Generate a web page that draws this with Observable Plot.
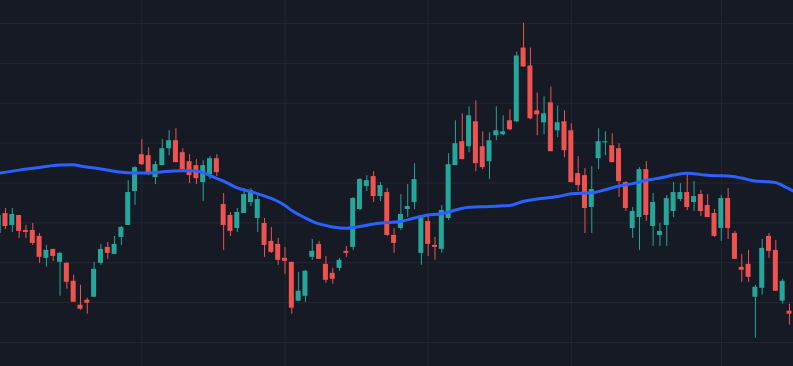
<!DOCTYPE html>
<html><head><meta charset="utf-8">
<script src="https://cdn.jsdelivr.net/npm/d3@7"></script>
<script src="https://cdn.jsdelivr.net/npm/@observablehq/plot@0.6"></script>
<style>html,body{margin:0;padding:0;background:#161a25;overflow:hidden}</style>
</head><body><div id="chart"></div>
<script>
const bar = d3.range(1, 118);
const open = [
87.35, 92.35, 89.35, 91.85, 88.1, 88.1, 86.6, 81.1, 83.35, 80.1,
79.85, 75.35, 69.35, 70.6, 71.35, 79.85, 83.85, 82.1, 86.35, 89.35,
97.85, 107.1, 106.85, 101.35, 104.35, 108.6, 110.6, 107.6, 105.35, 104.35,
100.1, 102.1, 106.1, 94.6, 91.85, 88.6, 92.35, 95.1, 91.1, 89.85,
85.35, 84.6, 81.1, 80.1, 70.35, 71.6, 81.35, 84.6, 79.6, 77.35,
78.6, 82.85, 83.85, 93.35, 99.1, 101.6, 96.6, 97.6, 86.85, 88.6,
93.35, 95.1, 82.35, 90.35, 84.35, 83.35, 91.1, 104.35, 110.35, 109.1,
115.35, 109.1, 105.35, 111.85, 112.1, 115.6, 115.35, 133.85, 129.35, 118.1,
115.1, 120.1, 113.1, 115.35, 113.1, 102.35, 101.85, 93.85, 106.1, 110.1,
109.35, 108.6, 100.1, 88.6, 91.35, 103.35, 89.1, 86.85, 89.35, 92.85,
95.85, 97.6, 95.1, 97.1, 94.35, 92.35, 88.6, 96.1, 87.35, 78.85,
79.6, 71.35, 73.6, 86.6, 83.1, 70.35, 67.85];
const high = [
92.6, 93.6, 93.6, 91.85, 89.35, 89.85, 87.35, 84.35, 83.35, 82.6,
80.1, 76.85, 74.35, 71.1, 80.1, 84.6, 85.1, 86.6, 89.1, 100.6,
104.1, 110.85, 108.85, 105.35, 110.85, 113.1, 113.6, 108.6, 107.1, 105.85,
105.6, 106.6, 107.1, 97.35, 92.6, 93.6, 98.6, 98.6, 96.85, 91.1,
88.85, 86.1, 83.85, 80.1, 77.6, 78.1, 85.85, 85.35, 81.6, 78.6,
81.1, 84.1, 96.35, 101.1, 101.85, 102.85, 100.1, 98.6, 88.6, 97.1,
99.6, 104.85, 91.85, 92.1, 86.35, 94.35, 107.35, 115.6, 117.35, 119.1,
120.6, 112.85, 112.6, 119.1, 116.85, 118.35, 132.85, 140.1, 133.85, 122.6,
121.6, 124.1, 119.35, 118.1, 114.85, 106.6, 103.6, 104.1, 113.6, 112.85,
112.35, 109.85, 100.35, 93.85, 103.85, 105.35, 97.35, 89.85, 96.85, 100.1,
99.85, 102.35, 100.35, 98.1, 97.1, 93.35, 96.85, 98.6, 87.85, 82.1,
83.1, 74.35, 85.85, 87.35, 85.6, 75.85, 69.6];
const low = [
86.85, 88.35, 87.6, 86.1, 86.1, 84.35, 79.85, 78.85, 80.35, 71.6,
73.35, 70.1, 68.1, 67.1, 71.35, 79.35, 80.85, 82.1, 84.35, 89.35,
94.35, 104.35, 101.85, 99.6, 104.35, 106.85, 105.1, 102.85, 99.85, 99.6,
95.35, 100.85, 101.6, 83.1, 86.6, 87.6, 92.35, 94.1, 87.6, 81.35,
82.35, 79.35, 77.1, 67.1, 70.35, 70.1, 80.6, 80.85, 74.85, 74.6,
77.85, 81.35, 83.1, 93.1, 97.85, 95.1, 95.35, 86.6, 82.35, 88.1,
91.35, 93.35, 79.35, 81.6, 80.6, 82.35, 90.6, 104.35, 105.85, 107.6,
102.85, 103.35, 100.85, 110.6, 111.85, 113.1, 115.1, 129.1, 115.85, 111.85,
112.1, 107.85, 111.35, 106.35, 100.1, 97.85, 87.35, 87.35, 103.35, 106.85,
105.1, 96.35, 92.85, 86.1, 83.1, 90.35, 84.1, 84.1, 84.1, 91.35,
95.35, 93.1, 92.85, 91.6, 91.35, 86.35, 85.35, 85.85, 80.85, 75.1,
75.1, 61.1, 71.85, 81.1, 72.85, 69.6, 64.35];
const close = [
91.85, 89.1, 92.1, 87.85, 87.6, 84.85, 81.35, 83.1, 81.6, 82.35,
75.1, 70.1, 68.35, 69.85, 78.35, 83.35, 82.35, 84.6, 88.85, 97.6,
103.85, 104.6, 102.6, 104.6, 108.6, 110.6, 105.1, 103.35, 101.85, 101.1,
104.35, 106.1, 102.6, 89.35, 87.85, 92.6, 97.1, 98.1, 95.85, 84.35,
82.6, 80.6, 80.35, 68.6, 72.85, 77.85, 82.85, 80.85, 75.6, 75.85,
80.6, 82.35, 96.1, 100.85, 100.6, 96.6, 99.35, 86.85, 84.85, 92.1,
94.1, 100.85, 91.6, 84.6, 83.85, 93.1, 104.6, 109.85, 105.85, 116.85,
104.85, 103.85, 110.6, 113.1, 112.85, 113.35, 131.85, 129.1, 116.1, 117.1,
117.35, 107.85, 115.1, 108.1, 100.1, 99.35, 93.6, 98.35, 110.35, 110.35,
105.1, 100.35, 93.6, 92.85, 103.35, 91.85, 95.1, 87.85, 96.1, 97.6,
97.6, 93.85, 96.6, 92.85, 91.35, 86.6, 96.1, 88.6, 80.85, 78.1,
76.35, 73.85, 83.6, 82.85, 72.85, 75.35, 67.1];
const maBar = [1, 4, 7, 10, 12, 13, 16, 19, 21, 23, 26, 28, 30, 31, 32, 34, 36, 38, 40, 42, 43, 44, 46, 48, 50, 52, 54, 56, 58, 60, 62, 64, 66, 68, 70, 73, 75, 76, 78, 80, 83, 85, 88, 90, 92, 94, 96, 98, 100, 102, 104, 106, 108, 110, 112, 114, 115, 116, 117, 118];
const maValue = [102.45, 103.23, 103.9, 104.53, 104.55, 104.28, 103.53, 102.68, 102.53, 102.53, 102.93, 103.1, 103.03, 102.6, 101.85, 100.48, 98.78, 97.85, 96.73, 95.35, 94.35, 93.1, 91.23, 89.73, 88.98, 88.68, 89.1, 89.73, 90.1, 90.35, 91.23, 91.98, 92.28, 93.23, 93.93, 94.1, 94.28, 94.35, 95.43, 95.98, 96.6, 97.28, 97.55, 98.3, 99.23, 99.85, 100.68, 101.23, 101.98, 102.43, 102.1, 101.8, 101.78, 101.23, 100.48, 100.3, 100.1, 99.35, 98.48, 97.6];
const monthStart = [22, 43, 64, 85, 107];
const priceTicks = [60, 70, 80, 90, 100, 110, 120, 130, 140];

const candles = bar.map((b, k) => ({bar: b, open: open[k], high: high[k], low: low[k], close: close[k]}));
const ma = maBar.map((b, k) => ({bar: b, value: maValue[k]}));
const UP = "#26a69a", DOWN = "#ef5350", GRID = "#232733";
const isUp = d => d.close >= d.open;
const isDown = d => d.close < d.open;
const half = 0.367;

const chart = Plot.plot({
  width: 793, height: 366, margin: 0,
  style: {background: "#161a25"},
  x: {axis: null, domain: [1.2665, 117.59]},
  y: {axis: null, domain: [53.98, 145.768]},
  marks: [
    Plot.ruleY(priceTicks, {stroke: GRID, strokeWidth: 1}),
    Plot.ruleX(monthStart, {stroke: GRID, strokeWidth: 1}),
    Plot.ruleX(candles, {filter: isUp, x: "bar", y1: "low", y2: "high", stroke: UP}),
    Plot.ruleX(candles, {filter: isDown, x: "bar", y1: "low", y2: "high", stroke: DOWN}),
    Plot.rect(candles, {filter: isUp, x1: d => d.bar - half, x2: d => d.bar + half, y1: "open", y2: "close", fill: UP}),
    Plot.rect(candles, {filter: isDown, x1: d => d.bar - half, x2: d => d.bar + half, y1: "open", y2: "close", fill: DOWN}),
    Plot.line(ma, {x: "bar", y: "value", stroke: "#2962ff", strokeWidth: 3, curve: "monotone-x", clip: true})
  ]
});
document.getElementById("chart").appendChild(chart);
</script>
</body></html>
